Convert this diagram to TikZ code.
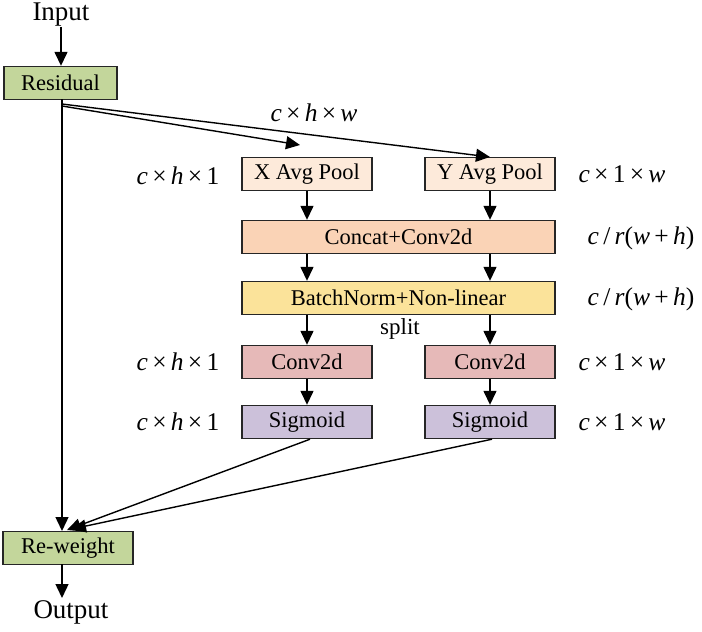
\documentclass[tikz,border=0pt]{standalone}
\usepackage{fontspec}
\setmainfont{Liberation Serif}
\usetikzlibrary{positioning,arrows.meta}

\definecolor{resgreen}{HTML}{C3D69B}
\definecolor{poolpeach}{HTML}{FDEADA}
\definecolor{catpeach}{HTML}{FAD3B6}
\definecolor{bnyellow}{HTML}{FBE39A}
\definecolor{convpink}{HTML}{E6B9B8}
\definecolor{sigpurple}{HTML}{CCC1DA}

\tikzset{
  blk/.style={draw=black!85, line width=1.4, minimum height=33, inner sep=0,
    font=\fontsize{22.5}{26}\selectfont},
  narrow/.style={blk, minimum width=130},
  wide/.style={blk, minimum width=313},
  dimlbl/.style={font=\fontsize{25.5}{30}\selectfont},
  flow/.style={line width=1.4, -{Triangle[length=14, width=13]}},
}

% italic dimension labels
\newcommand{\dimA}{\textit{c}\,×\,\textit{h}\,×\,1}
\newcommand{\dimB}{\textit{c}\,×\,1\,×\,\textit{w}}
\newcommand{\dimC}{\textit{c}\,/\,\textit{r}(\textit{w}\,+\,\textit{h})}

\begin{document}
\begin{tikzpicture}[x=1pt, y=-1pt]
\useasboundingbox (0,0) rectangle (702,632);

% input side
\node[font=\fontsize{27}{30}\selectfont, inner sep=0] (in) at (61,15) {Input};
\node[blk, fill=resgreen, minimum width=113] (res) at (60.5,83) {Residual};

% pooling along both axes
\node[narrow, fill=poolpeach] (xp) at (307,174) {X Avg Pool};
\node[narrow, fill=poolpeach] (yp) at (490,174) {Y Avg Pool};
\node[wide, fill=catpeach] (cat) at (398.5,237) {Concat+Conv2d};
\node[wide, fill=bnyellow] (bn) at (398.5,298) {BatchNorm+Non-linear};
\node[font=\fontsize{23}{26}\selectfont] (split) at (400,329) {split};
\node[narrow, fill=convpink] (cvl) at (307,362) {Conv2d};
\node[narrow, fill=convpink] (cvr) at (490,362) {Conv2d};
\node[narrow, fill=sigpurple] (sgl) at (307,422) {Sigmoid};
\node[narrow, fill=sigpurple] (sgr) at (490,422) {Sigmoid};

% output side
\node[blk, fill=resgreen, minimum width=130] (rw) at (68,548) {Re-weight};
\node[font=\fontsize{27}{30}\selectfont, inner sep=0] (out) at (71,612) {Output};

% shape labels
\node[dimlbl] (d1) at (314,113) {\textit{c}\,×\,\textit{h}\,×\,\textit{w}};
\node[dimlbl] (d2) at (178,176) {\dimA};
\node[dimlbl] (d3) at (622,174) {\dimB};
\node[dimlbl] (d4) at (641,238) {\dimC};
\node[dimlbl] (d5) at (641,299) {\dimC};
\node[dimlbl] (d6) at (178,362) {\dimA};
\node[dimlbl] (d7) at (622,362) {\dimB};
\node[dimlbl] (d8) at (178,422) {\dimA};
\node[dimlbl] (d9) at (622,422) {\dimB};

% branch points and arrow ends
\coordinate (s1) at (62,104);
\coordinate (s2) at (62,106);
\coordinate (xe) at (300,145);
\coordinate (ye) at (490,157);
\coordinate (m0) at (62,99);
\coordinate (m1) at (62,531);
\coordinate (e1) at (67,530);
\coordinate (e2) at (72,529);
\coordinate (o0) at (62,564);
\coordinate (o1) at (62,598);

\draw[flow] (in) -- (in |- res.north);
\draw[line width=1.4] (m0) -- (s2);
\draw[flow] (s1) -- (ye);
\draw[flow] (s2) -- (xe);
\draw[flow] (s2) -- (m1);

\draw[flow] (xp) -- (xp |- cat.north);
\draw[flow] (yp) -- (yp |- cat.north);
\draw[flow] (cat.south -| xp) -- (xp |- bn.north);
\draw[flow] (cat.south -| yp) -- (yp |- bn.north);
\draw[flow] (bn.south -| xp) -- (cvl);
\draw[flow] (bn.south -| yp) -- (cvr);
\draw[flow] (cvl) -- (sgl);
\draw[flow] (cvr) -- (sgr);

\draw[flow] ([xshift=3]sgl.south) -- (e1);
\draw[flow] ([xshift=2]sgr.south) -- (e2);
\draw[flow] (o0) -- (o1);
\end{tikzpicture}
\end{document}
